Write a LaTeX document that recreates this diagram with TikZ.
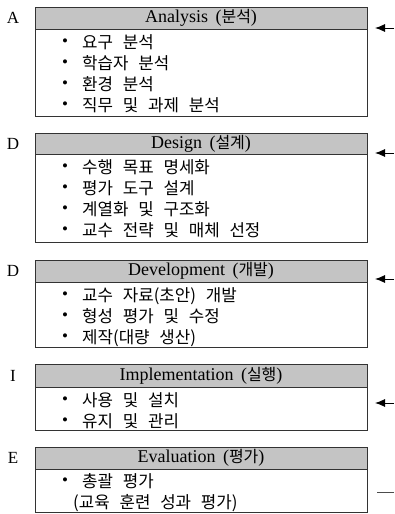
\documentclass[tikz,border=0pt]{standalone}
\usepackage{fontspec}
\setmainfont{Liberation Serif}
\newfontfamily\kr{Noto Sans CJK KR}[WordSpace=2.6]
\usetikzlibrary{arrows.meta}
\tikzset{
  hdr/.style={draw=black!80, line width=0.8pt, fill=black!23, minimum width=332pt, inner sep=0pt, font=\fontsize{18}{18}\selectfont},
  bodybox/.style={draw=black!80, line width=0.8pt, fill=white, minimum width=332pt, inner sep=0pt},
  letter/.style={inner sep=0pt, font=\fontsize{17}{17}\selectfont},
  bul/.style={inner sep=0pt, font=\fontsize{17}{17}\selectfont},
  itm/.style={anchor=west, inner sep=0pt, text height=13pt, text depth=1pt, font=\fontsize{16.8}{16.8}\selectfont\kr},
  fb/.style={line width=0.9pt, -{Latex[length=10pt,width=8pt]}},
  fbline/.style={line width=0.8pt, draw=black!70}
}
\newcommand\hk[1]{{\kr\fontsize{16}{16}\selectfont #1}}
\newcommand\myitem[3]{\node[bul] (#1b) at (65,#2+0.5) {•}; \node[itm] (#1) at (82,#2) {#3};}
\begin{document}
\begin{tikzpicture}[x=1pt,y=-1pt]
\useasboundingbox (0,0) rectangle (394,514);
% A
\node[bodybox, minimum height=87pt] (bA) at (201,72.5) {};
\node[hdr, minimum height=22pt] (hA) at (201,18) {Analysis\ \,(\hk{분석})};
\node[letter] (lA) at (13,18) {A};
\myitem{a1}{42}{요구 분석}
\myitem{a2}{63}{학습자 분석}
\myitem{a3}{84}{환경 분석}
\myitem{a4}{105}{직무 및 과제 분석}
% D
\node[bodybox, minimum height=88pt] (bD) at (201,198) {};
\node[hdr, minimum height=21pt] (hD) at (201,143.5) {Design\ \,(\hk{설계})};
\node[letter] (lD) at (13,143.5) {D};
\myitem{d1}{167}{수행 목표 명세화}
\myitem{d2}{188}{평가 도구 설계}
\myitem{d3}{209}{계열화 및 구조화}
\myitem{d4}{230}{교수 전략 및 매체 선정}
% Dev
\node[bodybox, minimum height=65pt] (bV) at (201,314.5) {};
\node[hdr, minimum height=22pt] (hV) at (201,271) {Development\ \,(\hk{개발})};
\node[letter] (lV) at (13,271) {D};
\myitem{v1}{295}{교수 자료(초안) 개발}
\myitem{v2}{316}{형성 평가 및 수정}
\myitem{v3}{337}{제작(대량 생산)}
% I
\node[bodybox, minimum height=43pt] (bI) at (201,408.5) {};
\node[hdr, minimum height=23pt] (hI) at (201,375.5) {Implementation\ \,(\hk{실행})};
\node[letter] (lI) at (13,375.5) {I};
\myitem{i1}{400}{사용 및 설치}
\myitem{i2}{421}{유지 및 관리}
% E
\node[bodybox, minimum height=43pt] (bE) at (201,490.5) {};
\node[hdr, minimum height=22pt] (hE) at (201,458) {Evaluation\ \,(\hk{평가})};
\node[letter] (lE) at (13,458) {E};
\myitem{e1}{481}{총괄 평가}
\node[itm] (e2) at (73,502) {(교육 훈련 성과 평가)};
% feedback arrows
\coordinate (rA) at (394,28);  \coordinate (tA) at (375,28);
\coordinate (rD) at (394,153); \coordinate (tD) at (375,153);
\coordinate (rV) at (394,279); \coordinate (tV) at (375,279);
\coordinate (rI) at (394,403); \coordinate (tI) at (375,403);
\coordinate (rE) at (394,492); \coordinate (tE) at (377,492);
\draw[fb] (rA) -- (tA);
\draw[fb] (rD) -- (tD);
\draw[fb] (rV) -- (tV);
\draw[fb] (rI) -- (tI);
\draw[fbline] (rE) -- (tE);
\end{tikzpicture}
\end{document}
